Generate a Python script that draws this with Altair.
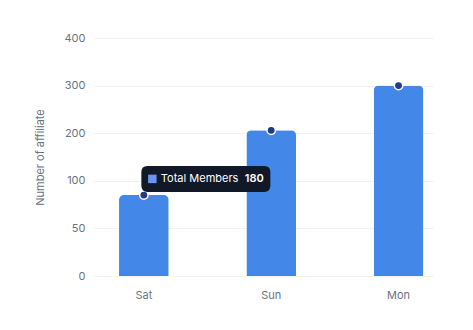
import altair as alt
import pandas as pd

days = ["Sat", "Sun", "Mon"]
values = [85, 206, 300]
tick_values = [0, 50, 100, 200, 300, 400]

tip_day = ["Sat"]
tip_mid = [104]
tip_label = ["Total Members"]
tip_value = ["180"]

W, H = 340, 238
step = H / (len(tick_values) - 1)
y_range = [H - i * step for i in range(len(tick_values))]

df = pd.DataFrame({"day": days, "value": values})
tip = pd.DataFrame({"day": tip_day, "mid": tip_mid, "label": tip_label, "val": tip_value})

FONT = "Inter"
GREY = "#6b7280"
x_scale = alt.Scale(domain=days, paddingInner=0.61, paddingOuter=0.14, align=0.73)
y_scale = alt.Scale(domain=tick_values, range=y_range)

x_enc = alt.X("day:N", scale=x_scale, sort=days,
              axis=alt.Axis(title=None, labelAngle=0, domain=False, ticks=False,
                            labelPadding=13, labelFontSize=11, labelColor=GREY,
                            labelFont=FONT))

bars = alt.Chart(df).mark_bar(color="#4388e9", cornerRadiusTopLeft=5,
                              cornerRadiusTopRight=5).encode(
    x=x_enc,
    y=alt.Y("value:Q", scale=y_scale,
            axis=alt.Axis(title="Number of affiliate", values=tick_values,
                          domain=False, ticks=False, labelPadding=8,
                          labelFontSize=11, labelColor=GREY, labelFont=FONT,
                          titleFont=FONT, titleFontSize=11, titleFontWeight="normal",
                          titleColor=GREY, titlePadding=19,
                          grid=True, gridColor="#f1f2f4", gridWidth=1)),
)

dots = alt.Chart(df).mark_point(filled=True, size=70, color="#1e3a8a",
                                stroke="white", strokeWidth=1.5, opacity=1).encode(
    x=alt.X("day:N", scale=x_scale, sort=days),
    y=alt.Y("value:Q", scale=y_scale),
)

# tooltip box: a symbol whose path runs from the anchor to the right
box_path = ("M0.047,-0.1008 L0.953,-0.1008 Q1,-0.1008 1,-0.054 L1,0.054 "
            "Q1,0.1008 0.953,0.1008 L0.047,0.1008 Q0,0.1008 0,0.054 "
            "L0,-0.054 Q0,-0.1008 0.047,-0.1008 Z")
box = alt.Chart(tip).mark_point(shape=box_path, size=258 * 258, filled=True,
                                color="#111827", opacity=1, xOffset=-2.5).encode(
    x=alt.X("day:N", scale=x_scale, sort=days),
    y=alt.Y("mid:Q", scale=y_scale),
)

swatch = alt.Chart(tip).mark_square(size=72, color="#6b93f5", opacity=1,
                                    xOffset=8.5, cornerRadius=2).encode(
    x=alt.X("day:N", scale=x_scale, sort=days),
    y=alt.Y("mid:Q", scale=y_scale),
)

label = alt.Chart(tip).mark_text(align="left", baseline="middle", dx=17,
                                 color="white", font=FONT, fontSize=11).encode(
    x=alt.X("day:N", scale=x_scale, sort=days),
    y=alt.Y("mid:Q", scale=y_scale),
    text="label:N",
)

val = alt.Chart(tip).mark_text(align="left", baseline="middle", dx=101,
                               color="white", font=FONT, fontSize=11,
                               fontWeight=600).encode(
    x=alt.X("day:N", scale=x_scale, sort=days),
    y=alt.Y("mid:Q", scale=y_scale),
    text="val:N",
)

chart = alt.layer(bars, dots, box, swatch, label, val).properties(
    width=W, height=H,
    padding={"left": 93, "top": 38, "right": 40, "bottom": 54},
    autosize="none",
    background="white",
).configure_view(stroke=None)

chart.save("out.html", embed_options={"renderer": "svg", "actions": False})
